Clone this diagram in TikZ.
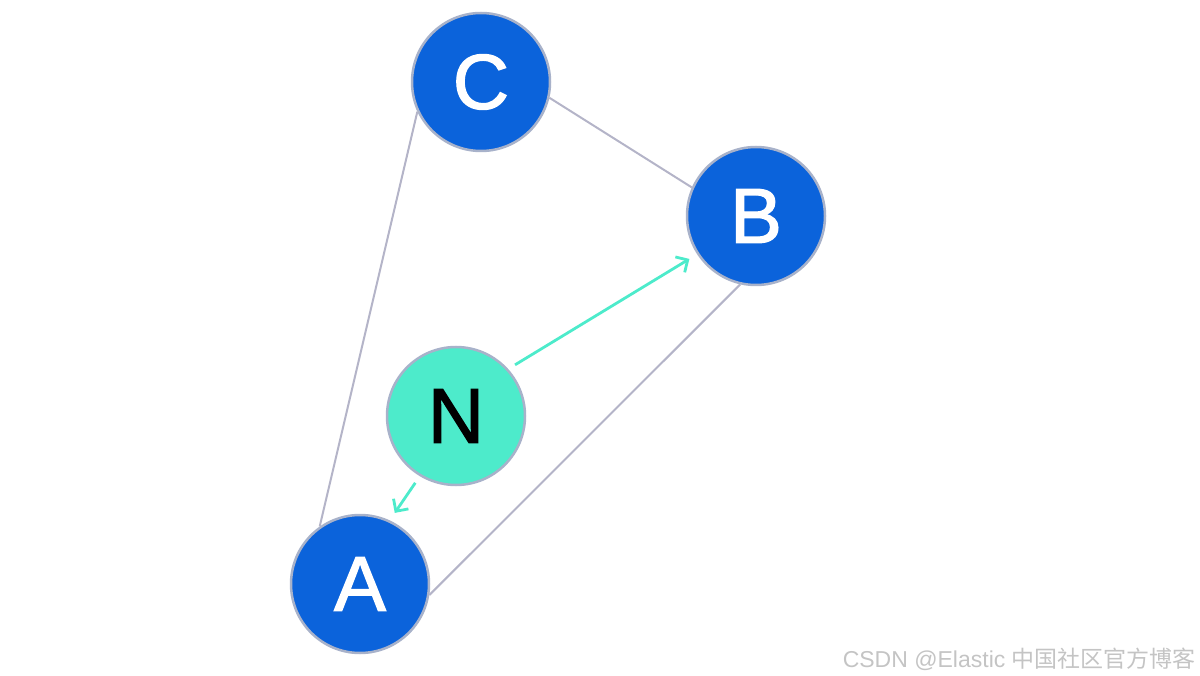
\documentclass[tikz,border=0pt]{standalone}
\usepackage{fontspec}
\setmainfont{Liberation Sans}
\newfontfamily\cjk{Noto Sans CJK SC}
\newfontfamily\letterfont{Liberation Sans}[FakeBold=1.6]
\usetikzlibrary{arrows.meta}
\definecolor{nodeblue}{HTML}{0B63DB}
\definecolor{mint}{HTML}{4DEBCB}
\definecolor{rim}{HTML}{A8B2CA}
\definecolor{edgegray}{HTML}{B4B4C8}
\definecolor{wm}{HTML}{C4C4C4}
\tikzset{
  vtx/.style={circle, minimum size=138pt, inner sep=0pt, draw=rim, line width=2.5pt, fill=nodeblue, text=white, font=\letterfont\fontsize{78}{78}\selectfont},
  newvtx/.style={vtx, fill=mint, text=black},
  edge/.style={draw=edgegray, line width=2pt},
  link/.style={draw=mint, line width=2.8pt, -{Straight Barb[length=9pt,width=18pt,line width=2.8pt]}, shorten <=8pt, shorten >=9pt}
}
\begin{document}
\begin{tikzpicture}[x=1pt,y=-1pt]
\useasboundingbox (0,0) rectangle (1200,676);
\node[vtx] (C) at (481,82) {C};
\node[vtx] (B) at (756,216) {B};
\node[vtx] (A) at (360,584) {A};
\node[newvtx] (N) at (456,416) {N};
\draw[edge] (C.347) -- (B.156);
\draw[edge] (C.205) -- (A.125);
\draw[edge] (B.257) -- (A.351);
\draw[link] (N.42) -- (B.213);
\draw[link] (N.239) -- (A.65);
\node[anchor=base east, text=wm, font=\fontsize{23}{23}\selectfont, inner sep=0pt] (wmk) at (1196,667) {CSDN @Elastic {\cjk 中国社区官方博客}};
\end{tikzpicture}
\end{document}
